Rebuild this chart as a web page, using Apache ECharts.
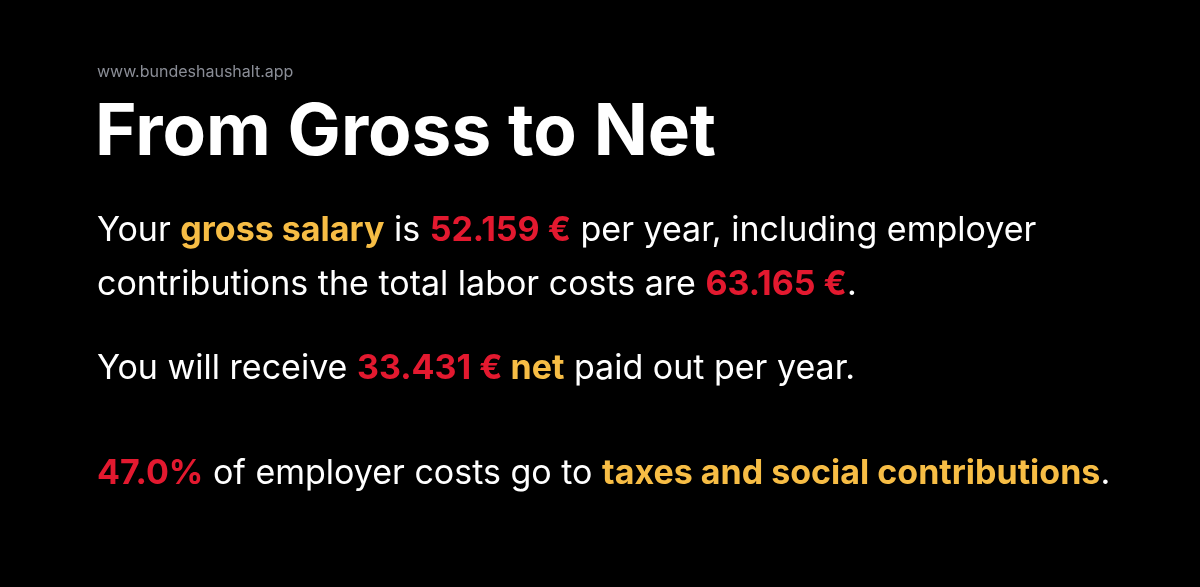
<!DOCTYPE html>
<html>
<head>
<meta charset="utf-8">
<script src="https://cdn.jsdelivr.net/npm/echarts@6/dist/echarts.min.js"></script>
<style>
  html, body { margin: 0; padding: 0; background: #000; }
  #chart { width: 1200px; height: 587px; }
</style>
</head>
<body>
<div id="chart"></div>
<script>
// values shown in the text
var grossSalary = [52159];
var laborCosts = [63165];
var netPay = [33431];
var taxShare = [47.0];

var fmt = function (v) {
    return String(v).replace(/\B(?=(\d{3})+(?!\d))/g, '.') + ' €';
};

var chart = echarts.init(document.getElementById('chart'));

var font = 'Inter, "Noto Sans", sans-serif';
var size = 34;
var rich = {
    w: { fill: '#ffffff', fontSize: size, fontFamily: font },
    y: { fill: '#f7bd45', fontSize: size, fontWeight: 'bold', fontFamily: font },
    r: { fill: '#e3192f', fontSize: size, fontWeight: 'bold', fontFamily: font }
};

function line(top, text) {
    return {
        type: 'text', left: 97, top: top,
        style: { text: text, rich: rich, fill: '#fff', font: size + 'px ' + font }
    };
}

var option = {
    backgroundColor: '#000000',
    graphic: [
        {
            type: 'text', left: 97, top: 64,
            style: { text: 'www.bundeshaushalt.app', fill: '#8a8d96', font: '16px ' + font }
        },
        {
            type: 'text', left: 95, top: 98,
            style: { text: 'From Gross to Net', fill: '#ffffff', font: 'bold 71px ' + font }
        },
        line(214, '{w|Your }{y|gross salary}{w| is }{r|' + fmt(grossSalary[0]) + '}{w| per year, including employer}'),
        line(268, '{w|contributions the total labor costs are }{r|' + fmt(laborCosts[0]) + '}{w|.}'),
        line(352, '{w|You will receive }{r|' + fmt(netPay[0]) + '}{y| net}{w| paid out per year.}'),
        line(457, '{r|' + taxShare[0].toFixed(1) + '%}{w| of employer costs go to }{y|taxes and social contributions}{w|.}')
    ]
};
chart.setOption(option);
</script>
</body>
</html>
